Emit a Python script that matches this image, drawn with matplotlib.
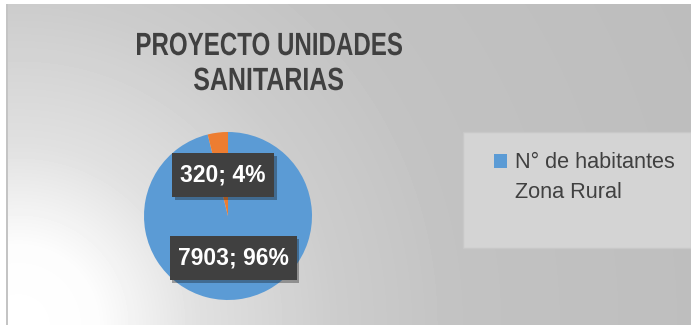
import matplotlib.pyplot as plt
import matplotlib.patches as mpatches
import matplotlib.patheffects as pe
from matplotlib.font_manager import FontProperties
from matplotlib.textpath import TextPath
from matplotlib.transforms import Affine2D
import numpy as np

# ── Data ─────────────────────────────────────────────────────────────
TITLE_LINES = ['PROYECTO UNIDADES', 'SANITARIAS']
series_labels = ['N° de habitantes\nZona Rural', 'N° de habitantes\nZona Urbana']
values = [7903, 320]
colors = ['#5b9bd5', '#ed7d31']

W, H = 691, 325
fig = plt.figure(figsize=(W / 100, H / 100), dpi=100)
fig.patch.set_facecolor('white')

# ── Chart area background: radial gradient, light at bottom-left ────
bg = fig.add_axes([8 / W, 0, 1 - 8 / W, 1 - 4 / H])
bg.set_axis_off()
yy, xx = np.mgrid[0:H - 4, 0:W - 8]
d = np.hypot(xx - 10, (H - 4) - yy)
shade = np.interp(d, [0, 80, 180, 320, 450, 750],
                  [1.0, 0.99, 0.88, 0.80, 0.76, 0.74])
bg.imshow(shade, cmap='gray', vmin=0, vmax=1, aspect='auto',
          extent=[0, 1, 0, 1], origin='upper')
bg.set_xlim(0, 1)
bg.set_ylim(0, 1)

# left border of chart area
fig.add_artist(mpatches.Rectangle((6 / W, 0), 2 / W, 1 - 4 / H,
                                  transform=fig.transFigure,
                                  facecolor='#c4c4c4', edgecolor='none'))

# ── Title: bold text squeezed horizontally (narrow face) ────────────
title_fp = FontProperties(family='Liberation Sans', weight='bold')
cap_h = 23.0                      # cap height in pixels
font_px = cap_h / 0.716
# (x_left, x_right, baseline y from top) per line, in pixels
title_boxes = [(137, 402, 55), (194, 343, 90)]
for line, (x0, x1, base) in zip(TITLE_LINES, title_boxes):
    tp = TextPath((0, 0), line, size=font_px, prop=title_fp)
    ext = tp.get_extents()
    sx = (x1 - x0) / ext.width
    tr = (Affine2D().translate(-ext.x0, 0).scale(sx, 1.0)
          .translate(x0, H - base))
    fig.add_artist(mpatches.PathPatch(tr.transform_path(tp), transform=None,
                                      facecolor='#404040', edgecolor='none'))

# ── Pie ──────────────────────────────────────────────────────────────
r = 84
cx, cy = 228, 216
ax = fig.add_axes([(cx - r) / W, 1 - (cy + r) / H, 2 * r / W, 2 * r / H])
wedges, _ = ax.pie(values, colors=colors, startangle=90, counterclock=False,
                   radius=1.0, wedgeprops=dict(linewidth=0))
ax.set_xlim(-1, 1)
ax.set_ylim(-1, 1)
ax.set_aspect('auto')

total = sum(values)
for w, v, dist in zip(wedges, values, [0.505, 0.49]):
    ang = np.deg2rad((w.theta1 + w.theta2) / 2)
    t = ax.text(dist * np.cos(ang), dist * np.sin(ang),
                f'{v}; {round(100 * v / total)}%',
                ha='center', va='center', fontsize=16.5, fontweight='bold',
                color='white', family='Liberation Sans',
                bbox=dict(boxstyle='square,pad=0.35', facecolor='#404040',
                          edgecolor='none'))
    box = t.get_bbox_patch()
    box.set_mutation_aspect(1.3)   # taller padding above/below the text
    box.set_path_effects(
        [pe.SimplePatchShadow(offset=(2, -2), alpha=0.35), pe.Normal()])

# ── Legend ───────────────────────────────────────────────────────────
fig.add_artist(mpatches.Rectangle((463 / W, 1 - 248 / H), (W - 463) / W, 116 / H,
                                  transform=fig.transFigure,
                                  facecolor='#d4d4d4', edgecolor='#c8c8c8',
                                  linewidth=1))
leg = fig.legend([wedges[0]], [series_labels[0].split('\n')[0]],
                 loc='center left', bbox_to_anchor=(494 / W, 1 - 163 / H),
                 frameon=False, handlelength=0.62, handleheight=0.62,
                 handletextpad=0.33, borderpad=0, borderaxespad=0,
                 prop=dict(family='Liberation Sans', size=15.6))
for txt in leg.get_texts():
    txt.set_color('#404040')
fig.text(515 / W, 1 - 192 / H, series_labels[0].split('\n')[1],
         ha='left', va='center', fontsize=15.6, color='#404040',
         family='Liberation Sans')

fig.savefig('out.png', dpi=100)
